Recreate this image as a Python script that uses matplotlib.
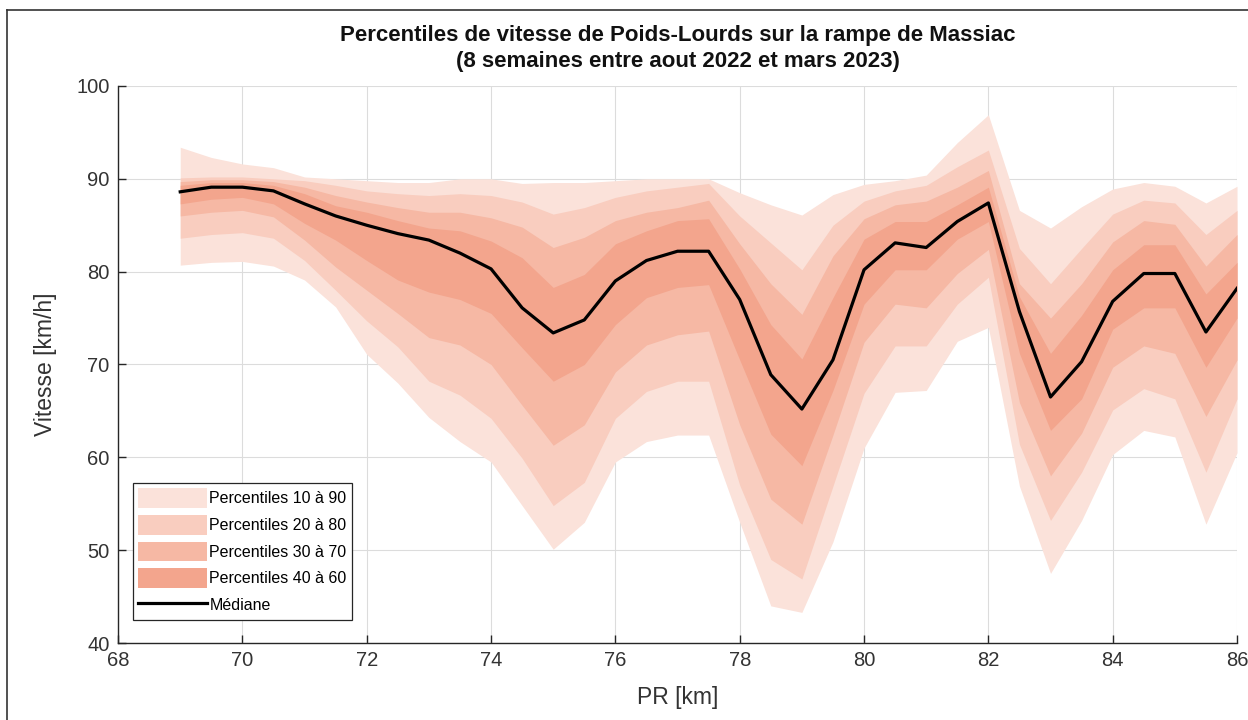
import numpy as np
import matplotlib
matplotlib.use('Agg')
import matplotlib.pyplot as plt
from matplotlib.lines import Line2D

plt.rcParams['font.family'] = ['Liberation Sans', 'DejaVu Sans']

# PR (km), tous les 500 m
pr = [69, 69.5, 70, 70.5, 71, 71.5, 72, 72.5, 73, 73.5, 74, 74.5, 75, 75.5,
      76, 76.5, 77, 77.5, 78, 78.5, 79, 79.5, 80, 80.5, 81, 81.5, 82, 82.5,
      83, 83.5, 84, 84.5, 85, 85.5, 86]

# percentiles de vitesse (km/h)
p90 = [93.4, 92.3, 91.6, 91.2, 90.2, 90.0, 89.8, 89.6, 89.6, 90.0, 90.0, 89.5,
       89.6, 89.6, 89.8, 90.0, 90.0, 90.0, 88.5, 87.2, 86.1, 88.3, 89.4, 89.8,
       90.4, 93.9, 96.9, 86.6, 84.7, 87.0, 88.9, 89.6, 89.2, 87.4, 89.2]
p80 = [90.1, 90.2, 90.2, 90.0, 89.8, 89.3, 88.7, 88.4, 88.2, 88.4, 88.2, 87.5,
       86.2, 86.9, 88.0, 88.7, 89.1, 89.5, 86.0, 83.1, 80.2, 85.0, 87.6, 88.7,
       89.3, 91.3, 93.1, 82.5, 78.7, 82.5, 86.2, 87.7, 87.4, 84.0, 86.6]
p70 = [89.7, 89.9, 89.9, 89.7, 89.1, 88.2, 87.5, 86.9, 86.4, 86.4, 85.8, 84.8,
       82.6, 83.7, 85.5, 86.4, 86.9, 87.7, 83.0, 78.7, 75.4, 81.7, 85.7, 87.2,
       87.6, 89.1, 90.9, 78.7, 75.0, 78.7, 83.2, 85.5, 85.1, 80.6, 84.0]
p60 = [89.3, 89.6, 89.6, 89.3, 88.4, 87.1, 86.4, 85.5, 84.7, 84.4, 83.3, 81.5,
       78.3, 79.7, 83.0, 84.4, 85.5, 85.7, 80.3, 74.3, 70.6, 77.2, 83.5, 85.4,
       85.4, 87.2, 89.1, 77.3, 71.2, 75.3, 80.2, 82.9, 82.9, 77.6, 81.0]
mediane = [88.6, 89.1, 89.1, 88.7, 87.3, 86.0, 85.0, 84.1, 83.4, 82.0, 80.3, 76.1,
           73.4, 74.8, 79.0, 81.2, 82.2, 82.2, 77.0, 68.9, 65.2, 70.5, 80.2, 83.1,
           82.6, 85.4, 87.4, 75.7, 66.5, 70.3, 76.8, 79.8, 79.8, 73.5, 78.2]
p40 = [87.3, 87.8, 88.0, 87.3, 85.2, 83.4, 81.2, 79.1, 77.8, 77.0, 75.5, 71.8,
       68.2, 70.0, 74.3, 77.2, 78.3, 78.6, 70.5, 62.5, 59.1, 67.2, 76.5, 80.2,
       80.2, 83.5, 85.4, 71.2, 62.9, 66.3, 73.8, 76.1, 76.1, 69.7, 75.0]
p30 = [86.0, 86.4, 86.6, 85.9, 83.4, 80.5, 78.0, 75.5, 72.9, 72.1, 70.0, 65.6,
       61.3, 63.5, 69.2, 72.1, 73.2, 73.6, 63.5, 55.5, 52.8, 62.4, 72.4, 76.5,
       76.1, 79.8, 82.4, 65.9, 58.0, 62.6, 69.7, 72.0, 71.2, 64.4, 70.5]
p20 = [83.6, 84.0, 84.2, 83.6, 81.2, 78.0, 74.7, 71.9, 68.2, 66.7, 64.2, 59.9,
       54.8, 57.3, 64.2, 67.1, 68.2, 68.2, 57.0, 49.0, 46.9, 56.9, 66.9, 72.0,
       72.0, 76.5, 79.4, 61.4, 53.2, 58.4, 65.1, 67.4, 66.3, 58.4, 66.3]
p10 = [80.7, 81.0, 81.1, 80.6, 79.1, 76.2, 71.1, 68.0, 64.3, 61.7, 59.5, 54.8,
       50.1, 53.0, 59.5, 61.7, 62.4, 62.4, 53.0, 44.0, 43.3, 50.9, 61.0, 67.0,
       67.2, 72.5, 74.0, 56.9, 47.5, 53.2, 60.3, 62.9, 62.2, 52.8, 60.5]

bandes = [(p10, p90, 'Percentiles 10 à 90'),
          (p20, p80, 'Percentiles 20 à 80'),
          (p30, p70, 'Percentiles 30 à 70'),
          (p40, p60, 'Percentiles 40 à 60')]
couleurs = ['#fbe2da', '#f9cdbf', '#f6b8a4', '#f3a58d']

fig = plt.figure(figsize=(12.48, 7.2), dpi=100)
ax = fig.add_axes([0.0946, 0.1069, 0.8966, 0.7737])

for (bas, haut, nom), c in zip(bandes, couleurs):
    ax.fill_between(pr, bas, haut, color=c, linewidth=0, label=nom, zorder=2)
ax.plot(pr, mediane, color='black', linewidth=2.3, label='Médiane', zorder=3)

ax.set_xlim(68, 86)
ax.set_ylim(40, 100)
ax.set_xticks(np.arange(68, 87, 2))
ax.set_yticks(np.arange(40, 101, 10))
ax.grid(True, color='#dcdcdc', linewidth=0.8, zorder=0)
ax.set_axisbelow(True)
for s in ['top', 'right']:
    ax.spines[s].set_visible(False)
for s in ['left', 'bottom']:
    ax.spines[s].set_color('#262626')
    ax.spines[s].set_linewidth(1.0)
ax.tick_params(direction='in', length=6, width=1.0, colors='#262626',
               labelsize=14.5, labelcolor='#333333', pad=6)

ax.set_xlabel('PR [km]', fontsize=16.5, color='#333333', labelpad=11)
ax.set_ylabel('Vitesse [km/h]', fontsize=16.5, color='#333333', labelpad=14)
ax.set_title('Percentiles de vitesse de Poids-Lourds sur la rampe de Massiac\n'
             '(8 semaines entre aout 2022 et mars 2023)',
             fontsize=16, fontweight='bold', color='#111111', pad=14,
             linespacing=1.3)

leg = ax.legend(loc='lower left', bbox_to_anchor=(0.013, 0.041),
                borderaxespad=0, fontsize=11.5, frameon=True, fancybox=False,
                framealpha=1, edgecolor='#262626', handlelength=4.3,
                handleheight=1.5, handletextpad=0.15, labelspacing=0.45,
                borderpad=0.35)
leg.get_frame().set_linewidth(0.9)

# cadre de la figure
fig.add_artist(Line2D([0.0056, 0.0056], [0.0, 0.986], color='#333333',
                      linewidth=1.2, transform=fig.transFigure))
fig.add_artist(Line2D([0.0056, 1.0], [0.986, 0.986], color='#333333',
                      linewidth=1.2, transform=fig.transFigure))

fig.savefig('out.png', dpi=100)
